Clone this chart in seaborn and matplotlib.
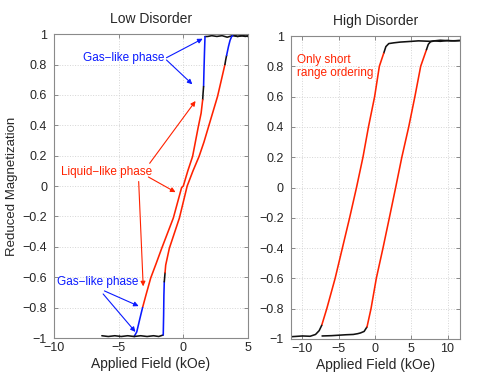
import numpy as np
import pandas as pd
import matplotlib
matplotlib.use("Agg")
import matplotlib.pyplot as plt
from matplotlib.ticker import FuncFormatter
import seaborn as sns

# ---------------- data: Low disorder ----------------
# descending branch (left loop curve)
ld_top_flat_x = [5.0, 4.6, 4.2, 3.8, 3.4, 3.0, 2.6, 2.2, 1.9, 1.68]
ld_top_flat_m = [0.985, 0.99, 0.985, 0.99, 0.98, 0.99, 0.985, 0.99, 0.985, 0.984]
ld_gas_top_x = [1.68, 1.64, 1.6, 1.57]
ld_gas_top_m = [0.984, 0.88, 0.76, 0.655]
ld_blk_top_x = [1.57, 1.53, 1.5]
ld_blk_top_m = [0.655, 0.61, 0.568]
ld_liq_dn_x = [1.5, 1.38, 1.16, 0.72, 0.35, 0.0, -0.13, -0.77, -1.67, -2.1, -2.52, -2.88, -3.15]
ld_liq_dn_m = [0.568, 0.48, 0.39, 0.195, 0.1, 0.0, -0.01, -0.21, -0.41, -0.51, -0.605, -0.715, -0.80]
ld_gas_bot_x = [-3.15, -3.35, -3.6, -3.8]
ld_gas_bot_m = [-0.80, -0.87, -0.96, -0.99]
ld_bot_flat_x = [-3.8, -4.3, -4.8, -5.3, -5.8, -6.3]
ld_bot_flat_m = [-0.99, -0.985, -0.99, -0.985, -0.99, -0.985]
# ascending branch (right loop curve)
la_bot_flat_x = [-3.8, -3.3, -2.8, -2.3, -1.9, -1.55]
la_bot_flat_m = [-0.99, -0.985, -0.99, -0.985, -0.99, -0.98]
la_gas_bot_x = [-1.55, -1.52, -1.5, -1.47]
la_gas_bot_m = [-0.98, -0.85, -0.72, -0.63]
la_blk_bot_x = [-1.47, -1.44, -1.41]
la_blk_bot_m = [-0.63, -0.60, -0.57]
la_liq_up_x = [-1.41, -1.36, -1.08, -0.3, 0.3, 0.75, 1.22, 1.6, 1.95, 2.3, 2.65, 2.95, 3.22]
la_liq_up_m = [-0.57, -0.52, -0.41, -0.21, 0.0, 0.1, 0.195, 0.29, 0.39, 0.49, 0.59, 0.70, 0.80]
la_blk_top_x = [3.22, 3.28, 3.35]
la_blk_top_m = [0.80, 0.83, 0.86]
la_gas_top_x = [3.35, 3.5, 3.62, 3.74, 3.9]
la_gas_top_m = [0.86, 0.92, 0.96, 0.984, 0.995]
la_top_flat_x = [3.9, 4.2, 4.5, 4.8, 5.0]
la_top_flat_m = [0.995, 0.985, 0.99, 0.985, 0.99]

# ---------------- data: High disorder ----------------
hd_top_flat_x = [11.7, 10.5, 9.0, 7.6, 6.0, 4.5, 3.5, 2.6, 1.9, 1.5, 1.2]
hd_top_flat_m = [0.97, 0.968, 0.972, 0.965, 0.968, 0.963, 0.96, 0.955, 0.95, 0.93, 0.886]
hd_liq_dn_x = [1.2, 0.6, -0.05, -0.9, -1.66, -2.55, -3.5, -4.5, -5.5, -6.65, -7.35]
hd_liq_dn_m = [0.886, 0.8, 0.6, 0.4, 0.2, 0.0, -0.2, -0.4, -0.6, -0.8, -0.91]
hd_bot_dn_x = [-7.35, -7.7, -8.2, -8.95, -10.0, -11.6]
hd_bot_dn_m = [-0.91, -0.945, -0.97, -0.982, -0.98, -0.985]
hd_bot_up_x = [-7.3, -6.0, -5.0, -4.0, -3.0, -2.4, -2.0, -1.5, -1.1]
hd_bot_up_m = [-0.98, -0.978, -0.975, -0.972, -0.97, -0.965, -0.96, -0.95, -0.92]
hd_liq_up_x = [-1.1, -0.55, 0.18, 1.1, 1.98, 2.85, 3.7, 4.65, 5.5, 6.3, 7.1]
hd_liq_up_m = [-0.92, -0.8, -0.6, -0.4, -0.2, 0.0, 0.2, 0.4, 0.6, 0.8, 0.91]
hd_top_up_x = [7.1, 7.35, 7.65, 8.2, 9.0, 10.0, 11.0, 11.7]
hd_top_up_m = [0.91, 0.945, 0.962, 0.968, 0.965, 0.97, 0.968, 0.97]

left_xticks = [-10, -5, 0, 5]
right_xticks = [-10, -5, 0, 5, 10]
yticks = [-1, -0.8, -0.6, -0.4, -0.2, 0, 0.2, 0.4, 0.6, 0.8, 1]

BLUE = "#0a1aff"
RED = "#ff2200"
BLACK = "#111111"


def build(segments):
    frames = []
    for i, (xs, ms, kind) in enumerate(segments):
        frames.append(pd.DataFrame({"x": xs, "m": ms, "seg": f"s{i}", "kind": kind}))
    return pd.concat(frames, ignore_index=True)


low_segments = [
    (ld_top_flat_x, ld_top_flat_m, "k"), (ld_gas_top_x, ld_gas_top_m, "b"),
    (ld_blk_top_x, ld_blk_top_m, "k"), (ld_liq_dn_x, ld_liq_dn_m, "r"),
    (ld_gas_bot_x, ld_gas_bot_m, "b"), (ld_bot_flat_x, ld_bot_flat_m, "k"),
    (la_bot_flat_x, la_bot_flat_m, "k"), (la_gas_bot_x, la_gas_bot_m, "b"),
    (la_blk_bot_x, la_blk_bot_m, "k"), (la_liq_up_x, la_liq_up_m, "r"),
    (la_blk_top_x, la_blk_top_m, "k"), (la_gas_top_x, la_gas_top_m, "b"),
    (la_top_flat_x, la_top_flat_m, "k"),
]
high_segments = [
    (hd_top_flat_x, hd_top_flat_m, "k"), (hd_liq_dn_x, hd_liq_dn_m, "r"),
    (hd_bot_dn_x, hd_bot_dn_m, "k"), (hd_bot_up_x, hd_bot_up_m, "k"),
    (hd_liq_up_x, hd_liq_up_m, "r"), (hd_top_up_x, hd_top_up_m, "k"),
]
low_df = build(low_segments)
high_df = build(high_segments)

sns.set_style("ticks")
plt.rcParams["font.family"] = ["Liberation Sans", "DejaVu Sans"]
plt.rcParams["xtick.direction"] = "in"
plt.rcParams["ytick.direction"] = "in"

fig = plt.figure(figsize=(4.8, 3.77), dpi=100)
axL = fig.add_axes([0.1125, 0.1034, 0.404, 0.806])
axR = fig.add_axes([0.606, 0.1008, 0.352, 0.8037])

cmap = {"k": BLACK, "b": BLUE, "r": RED}


def draw(ax, df):
    segs = df["seg"].unique()
    pal = {s: cmap[df.loc[df["seg"] == s, "kind"].iloc[0]] for s in segs}
    sns.lineplot(data=df, x="x", y="m", hue="seg", palette=pal, sort=False,
                 estimator=None, legend=False, linewidth=1.15, ax=ax)


draw(axL, low_df)
draw(axR, high_df)

fmt = FuncFormatter(lambda v, p: ("%g" % v).replace("-", "\u2212"))
for ax, xt, xl in [(axL, left_xticks, (-10, 5)), (axR, right_xticks, (-11.6, 11.7))]:
    ax.set_xlim(*xl)
    ax.set_ylim(-1, 1)
    ax.set_xticks(xt)
    ax.set_yticks(yticks)
    ax.xaxis.set_major_formatter(fmt)
    ax.yaxis.set_major_formatter(fmt)
    ax.tick_params(labelsize=9, length=3, width=0.6, color="#777777", top=True, right=True)
    ax.tick_params(axis="y", pad=5)
    ax.tick_params(axis="x", pad=3)
    ax.grid(True, linestyle=":", color="#d5d5d5", linewidth=0.7)
    for sp in ax.spines.values():
        sp.set_visible(True)
        sp.set_color("#8a8a8a")
        sp.set_linewidth(0.8)
    ax.set_xlabel("Applied Field (kOe)", fontsize=10, labelpad=2)
    ax.set_ylabel("")

axL.set_ylabel("Reduced Magnetization", fontsize=9.5, labelpad=3)
axL.set_title("Low Disorder", fontsize=10, pad=8)
axR.set_title("High Disorder", fontsize=10, pad=8)

# annotations, low disorder
ap_b = dict(arrowstyle="-|>", color=BLUE, lw=0.8, mutation_scale=7, shrinkA=0, shrinkB=0)
ap_r = dict(arrowstyle="-|>", color=RED, lw=0.8, mutation_scale=7, shrinkA=0, shrinkB=0)

axL.text(-4.6, 0.845, "Gas\u2212like phase", color=BLUE, fontsize=8.5, ha="center", va="center")
axL.annotate("", xy=(1.5, 0.97), xytext=(-1.3, 0.845), arrowprops=ap_b)
axL.annotate("", xy=(0.7, 0.67), xytext=(-1.3, 0.83), arrowprops=ap_b)

axL.text(-5.9, 0.09, "Liquid\u2212like phase", color=RED, fontsize=8.5, ha="center", va="center")
axL.annotate("", xy=(0.95, 0.56), xytext=(-2.6, 0.15), arrowprops=ap_r)
axL.annotate("", xy=(-0.6, -0.04), xytext=(-2.7, 0.06), arrowprops=ap_r)
axL.annotate("", xy=(-3.1, -0.66), xytext=(-3.45, 0.03), arrowprops=ap_r)

axL.text(-6.6, -0.63, "Gas\u2212like phase", color=BLUE, fontsize=8.5, ha="center", va="center")
axL.annotate("", xy=(-3.45, -0.79), xytext=(-6.1, -0.69), arrowprops=ap_b)
axL.annotate("", xy=(-3.7, -0.96), xytext=(-6.2, -0.71), arrowprops=ap_b)

axR.text(-10.8, 0.80, "Only short\nrange ordering", color=RED, fontsize=8.5,
         ha="left", va="center", linespacing=1.1)

fig.savefig("out.png", dpi=100)
